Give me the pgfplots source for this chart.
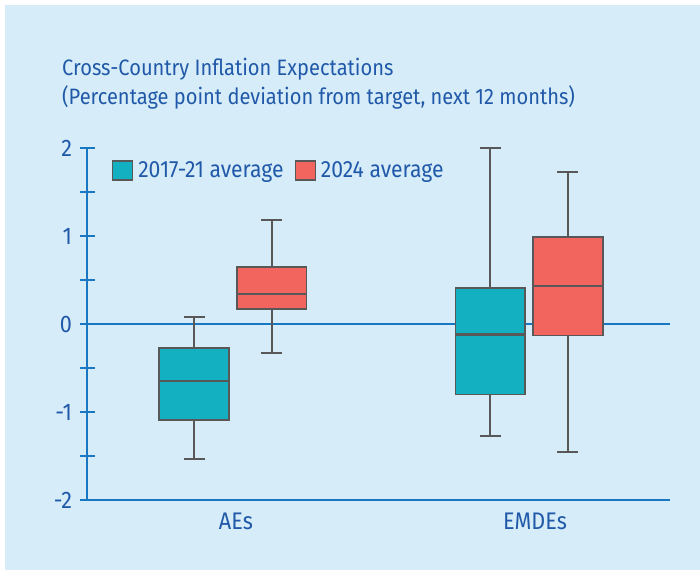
\documentclass[border=0pt]{standalone}
\usepackage{pgfplots}
\pgfplotsset{compat=1.18}
\usepgfplotslibrary{statistics}
\usepackage{fontspec}
\setmainfont{Fira Sans}[FakeStretch=0.9]
\definecolor{bg}{HTML}{D6EDF9}
\definecolor{titleblue}{HTML}{2159A9}
\definecolor{axisblue}{HTML}{1A78C2}
\definecolor{tealc}{HTML}{13B0C1}
\definecolor{redc}{HTML}{F2655F}
\definecolor{boxgray}{HTML}{585858}
\newcommand{\titlefont}{\fontsize{22.3bp}{26bp}\selectfont}
\newcommand{\bigfont}{\fontsize{24bp}{28bp}\selectfont}
\newcommand{\legfont}{\fontsize{23.5bp}{28bp}\selectfont}
\begin{document}
\begin{tikzpicture}
\useasboundingbox (0,0) rectangle (700bp,570bp);
\fill[white] (0,0) rectangle (700bp,570bp);
\fill[bg] (5bp,0) rectangle (700bp,565bp);
\node[anchor=base west, text=titleblue, font=\titlefont, inner sep=0pt] at (62bp,494bp) {Cross-Country Inflation Expectations};
\node[anchor=base west, text=titleblue, font=\titlefont, inner sep=0pt] at (62bp,465bp) {(Percentage point deviation from target, next 12 months)};
\begin{axis}[
  at={(87bp,70bp)}, anchor=south west, scale only axis,
  width=583bp, height=352bp,
  xmin=-0.493, xmax=1.476, ymin=-2, ymax=2,
  axis x line*=bottom, axis y line*=left,
  axis line style={draw=axisblue, line width=2.5bp},
  ytick={-2,-1,0,1,2}, yticklabels={-2,-1,0,1,2},
  minor ytick={-1.5,-0.5,0.5,1.5},
  tick align=center, major tick length=15bp, minor tick length=15bp,
  every tick/.style={draw=axisblue, line width=1.5bp},
  xtick={0.01,1.02}, xticklabels={AEs,EMDEs},
  xtick style={draw=none},
  ticklabel style={font=\bigfont, text=titleblue},
  yticklabel style={xshift=-4bp},
  xticklabel style={yshift=-2bp},
  clip=false,
  boxplot/draw direction=y,
  boxplot/every median/.style={line width=2.5bp},
  boxplot/every whisker/.style={line width=2bp},
  legend style={draw=none, fill=none, inner sep=0pt, outer sep=0pt,
    at={(0.043,0.936)}, anchor=west, font=\legfont, text=titleblue,
    /tikz/every odd column/.append style={column sep=3bp},
    /tikz/every even column/.append style={column sep=9bp}},
  legend columns=2,
]
\addplot[axisblue, line width=2.5bp, forget plot] coordinates {(-0.493,0) (1.476,0)};
\addlegendimage{legend image code/.code={\draw[draw=boxgray, fill=tealc, line width=1.2bp] (0bp,-9.5bp) rectangle (20bp,9.5bp);}}
\addlegendentry{2017-21 average}
\addlegendimage{legend image code/.code={\draw[draw=boxgray, fill=redc, line width=1.2bp] (0bp,-9.5bp) rectangle (20bp,9.5bp);}}
\addlegendentry{2024 average}
% AEs
\addplot[forget plot, draw=boxgray, fill=tealc, line width=1.5bp, boxplot prepared={draw position=-0.131, lower whisker=-1.53, lower quartile=-1.09, median=-0.65, upper quartile=-0.27, upper whisker=0.08, box extend=0.236, whisker extend=0.071}] coordinates {};
\addplot[forget plot, draw=boxgray, fill=redc, line width=1.5bp, boxplot prepared={draw position=0.131, lower whisker=-0.33, lower quartile=0.17, median=0.34, upper quartile=0.65, upper whisker=1.18, box extend=0.236, whisker extend=0.071}] coordinates {};
% EMDEs
\addplot[forget plot, draw=boxgray, fill=tealc, line width=1.5bp, boxplot prepared={draw position=0.869, lower whisker=-1.27, lower quartile=-0.80, median=-0.12, upper quartile=0.41, upper whisker=2.0, box extend=0.236, whisker extend=0.071}] coordinates {};
\addplot[forget plot, draw=boxgray, fill=redc, line width=1.5bp, boxplot prepared={draw position=1.131, lower whisker=-1.45, lower quartile=-0.13, median=0.43, upper quartile=0.99, upper whisker=1.73, box extend=0.236, whisker extend=0.071}] coordinates {};
\end{axis}
\end{tikzpicture}
\end{document}
